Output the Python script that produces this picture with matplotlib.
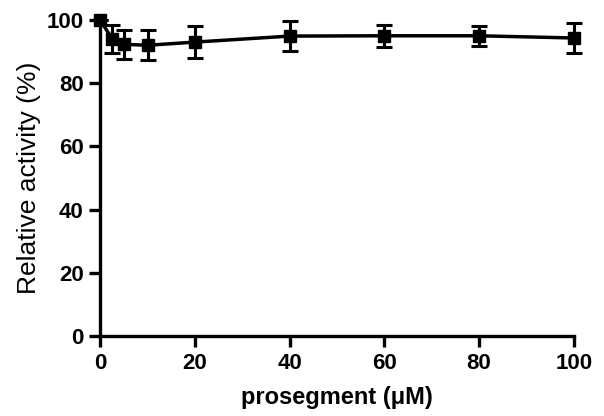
import matplotlib
matplotlib.use('Agg')
import matplotlib.pyplot as plt

# Data
conc = [0, 2.5, 5, 10, 20, 40, 60, 80, 100]
activity = [100, 94.0, 92.3, 92.0, 93.0, 94.9, 95.0, 95.0, 94.3]
err = [0, 4.5, 4.6, 4.8, 5.0, 4.7, 3.5, 3.2, 4.7]

xticks = [0, 20, 40, 60, 80, 100]
yticks = [0, 20, 40, 60, 80, 100]

plt.rcParams['font.family'] = ['Liberation Sans', 'DejaVu Sans']

fig = plt.figure(figsize=(6.04, 4.16), dpi=100)
ax = fig.add_axes([0.166, 0.192, 0.784, 0.76])

ax.errorbar(conc, activity, yerr=err, color='black', marker='s', markersize=8,
            linewidth=2.5, elinewidth=2.2, capsize=6, capthick=2.2, clip_on=False, zorder=3)

ax.set_xlim(0, 100)
ax.set_ylim(0, 100)
ax.set_xticks(xticks)
ax.set_yticks(yticks)

for side in ['top', 'right']:
    ax.spines[side].set_visible(False)
for side in ['left', 'bottom']:
    ax.spines[side].set_linewidth(2.4)

ax.tick_params(direction='out', length=8, width=2.4, labelsize=16, pad=4)
for lab in ax.get_xticklabels() + ax.get_yticklabels():
    lab.set_fontweight('bold')

ax.set_xlabel('prosegment (μM)', fontsize=17, fontweight='bold', labelpad=9)
ax.set_ylabel('Relative activity (%)', fontsize=19, labelpad=4)

fig.savefig('out.png', dpi=100)
